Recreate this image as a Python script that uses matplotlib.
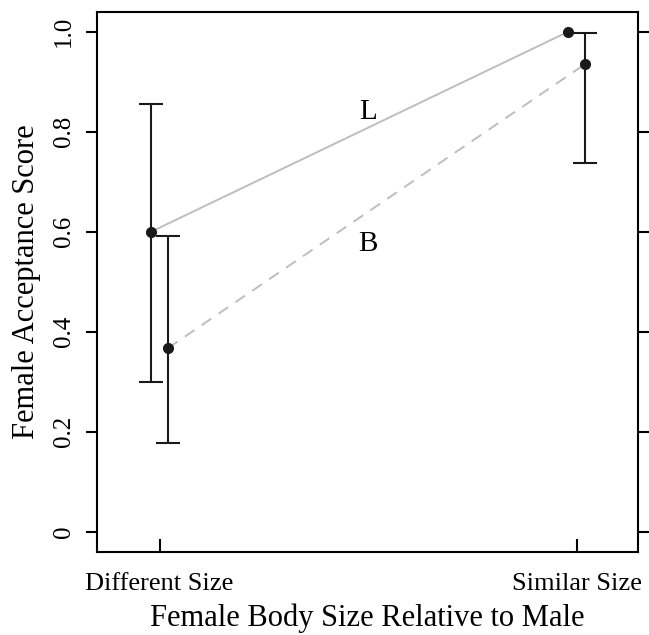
import numpy as np
import matplotlib
matplotlib.use("Agg")
import matplotlib.pyplot as plt

plt.rcParams["font.family"] = ["Liberation Serif", "DejaVu Serif"]

# ---- data ----
groups = ["Different Size", "Similar Size"]
group_pos = [1, 2]

L_mean = [0.600, 1.000]
L_low = [0.300, 1.000]
L_high = [0.855, 1.000]

B_mean = [0.367, 0.935]
B_low = [0.178, 0.738]
B_high = [0.592, 0.997]

offset = 0.02

fig = plt.figure(figsize=(6.49, 6.35), dpi=100)
ax = fig.add_axes([0.1495, 0.1312, 0.834, 0.8504])

xL = np.array(group_pos) - offset
xB = np.array(group_pos) + offset

# connecting lines
ax.plot(xL, L_mean, color="#bebebe", lw=1.4, zorder=1)
ax.plot(xB, B_mean, color="#bebebe", lw=1.4, ls=(0, (6, 4.5)), zorder=1)

# error bars (skip zero-width ones)
for xs, m, lo, hi in ((xL, L_mean, L_low, L_high), (xB, B_mean, B_low, B_high)):
    m = np.asarray(m)
    yerr = np.vstack([m - np.asarray(lo), np.asarray(hi) - m])
    keep = (yerr.sum(axis=0) > 0)
    ax.errorbar(xs[keep], m[keep], yerr=yerr[:, keep], fmt="none",
                ecolor="#1a1a1a", elinewidth=1.5, capsize=8.3, capthick=1.5, zorder=2)
    ax.plot(xs, m, "o", color="#1a1a1a", ms=7, zorder=3)

# group labels on lines
ax.text(1.5, 0.84, "L", ha="center", va="center", fontsize=21)
ax.text(1.5, 0.575, "B", ha="center", va="center", fontsize=21)

ax.set_xlim(0.85, 2.148)
ax.set_ylim(-0.04, 1.04)

ax.set_xticks(group_pos)
ax.set_xticklabels(groups, fontsize=19)
ax.set_yticks([0, 0.2, 0.4, 0.6, 0.8, 1.0])
ax.set_yticklabels(["0", "0.2", "0.4", "0.6", "0.8", "1.0"], fontsize=18,
                   rotation=90, va="center")

ax.tick_params(axis="x", direction="in", length=9.4, width=1.5, pad=15)
ax.tick_params(axis="y", direction="out", length=8, width=1.5, pad=8,
               right=True, left=True)

for sp in ax.spines.values():
    sp.set_linewidth(1.5)

ax.set_xlabel("Female Body Size Relative to Male", fontsize=22)
ax.set_ylabel("Female Acceptance Score", fontsize=22)
ax.xaxis.label.set_va("center")
ax.yaxis.label.set_va("center")
ax.xaxis.set_label_coords(0.5, -0.1228)
ax.yaxis.set_label_coords(-0.131, 0.5)

fig.savefig("out.png", dpi=100)
